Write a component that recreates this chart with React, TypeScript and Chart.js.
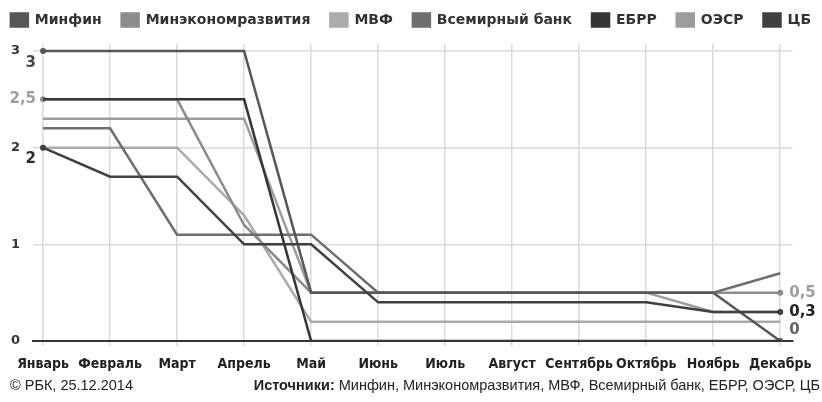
import { useEffect, useRef } from 'react';
import { Chart, registerables } from 'chart.js';
Chart.register(...registerables);

const months = ['Январь', 'Февраль', 'Март', 'Апрель', 'Май', 'Июнь', 'Июль', 'Август', 'Сентябрь', 'Октябрь', 'Ноябрь', 'Декабрь'];
const seriesNames = ['Минфин', 'Минэкономразвития', 'МВФ', 'Всемирный банк', 'ЕБРР', 'ОЭСР', 'ЦБ'];
const minfin = [3, 3, 3, 3, 0.5, 0.5, 0.5, 0.5, 0.5, 0.5, 0.5, 0];
const minek = [2.5, 2.5, 2.5, 1.2, 0.5, 0.5, 0.5, 0.5, 0.5, 0.5, 0.5, 0.5];
const imf = [2, 2, 2, 1.3, 0.2, 0.2, 0.2, 0.2, 0.2, 0.2, 0.2, 0.2];
const worldBank = [2.2, 2.2, 1.1, 1.1, 1.1, 0.5, 0.5, 0.5, 0.5, 0.5, 0.5, 0.7];
const ebrd = [2.5, 2.5, 2.5, 2.5, 0, 0, 0, 0, 0, 0, 0, 0];
const oecd = [2.3, 2.3, 2.3, 2.3, 0.5, 0.5, 0.5, 0.5, 0.5, 0.5, 0.3, 0.3];
const cbr = [2, 1.7, 1.7, 1.0, 1.0, 0.4, 0.4, 0.4, 0.4, 0.4, 0.3, 0.3];
const yTicks = [0, 1, 2, 3];
const footerLeft = '© РБК, 25.12.2014';
const footerBold = 'Источники:';
const footerRest = ' Минфин, Минэкономразвития, МВФ, Всемирный банк, ЕБРР, ОЭСР, ЦБ';

const seriesValues = [minfin, minek, imf, worldBank, ebrd, oecd, cbr];
const colors = ['#575757', '#8c8c8c', '#ababab', '#6e6e6e', '#353535', '#9c9c9c', '#404040'];
// drawing order (lower = on top)
const drawOrder = [2, 4, 6, 3, 0, 5, 1];
// which series carry start/end value labels: [seriesIndex, start label colour, start dy, end label colour, end dy]
const labelled: [number, string, number, string, number][] = [
  [0, '#444444', 12, '#666666', -11],
  [1, '#9e9e9e', 0, '#9e9e9e', 0],
  [6, '#2a2a2a', 11, '#222222', 0],
];

const fmt = (v: number) => String(v).replace('.', ',');

export default function App() {
  const ref = useRef<HTMLCanvasElement>(null);
  useEffect(() => {
    const labelPlugin = {
      id: 'valueLabels',
      afterDatasetsDraw(chart: any) {
        const ctx = chart.ctx;
        const xs = chart.scales.x;
        const ys = chart.scales.y;
        ctx.save();
        ctx.font = 'bold 15px "DejaVu Sans"';
        ctx.textBaseline = 'middle';
        labelled.forEach(([si, c1, dy1, c2, dy2]) => {
          const vals = seriesValues[si];
          const first = vals[0];
          const last = vals[vals.length - 1];
          ctx.fillStyle = c1;
          ctx.textAlign = 'right';
          ctx.fillText(fmt(first), xs.getPixelForValue(0) - 7, ys.getPixelForValue(first) + dy1);
          ctx.fillStyle = c2;
          ctx.textAlign = 'left';
          ctx.fillText(fmt(last), xs.getPixelForValue(vals.length - 1) + 9, ys.getPixelForValue(last) + dy2);
        });
        ctx.restore();
      },
      afterDraw(chart: any) {
        const ctx = chart.ctx;
        ctx.save();
        ctx.textBaseline = 'middle';
        ctx.fillStyle = '#222';
        ctx.font = '14.5px "Liberation Sans"';
        ctx.textAlign = 'left';
        ctx.fillText(footerLeft, 10, 386);
        const restW = ctx.measureText(footerRest).width;
        ctx.textAlign = 'right';
        ctx.fillText(footerRest, 820, 386);
        ctx.font = 'bold 14.5px "Liberation Sans"';
        ctx.fillText(footerBold, 820 - restW, 386);
        ctx.restore();
      },
    };

    const chart = new Chart(ref.current!, {
      type: 'line',
      data: {
        datasets: seriesNames.map((name, si) => {
          const hasLabel = labelled.some((l) => l[0] === si);
          return {
            label: name,
            order: drawOrder[si],
            data: seriesValues[si].map((y, i) => ({ x: i, y })),
            borderColor: colors[si],
            backgroundColor: colors[si],
            borderWidth: 2.5,
            tension: 0,
            pointRadius: seriesValues[si].map((_, i) => (hasLabel && (i === 0 || i === 11) ? 3 : 0)),
            pointBorderWidth: 0,
            pointBackgroundColor: colors[si],
          };
        }),
      },
      options: {
        responsive: false,
        animation: false,
        devicePixelRatio: 1,
        layout: { padding: { top: -7, left: -12, right: -12, bottom: 0 } },
        plugins: {
          tooltip: { enabled: false },
          legend: {
            display: true,
            position: 'top',
            align: 'center',
            labels: {
              boxWidth: 17,
              boxHeight: 13,
              padding: 20,
              color: '#333',
              font: { family: '"DejaVu Sans"', size: 14, weight: 'bold' },
              sort: (a: any, b: any) => a.datasetIndex - b.datasetIndex,
            },
          },
        },
        scales: {
          x: {
            type: 'linear',
            min: -0.15,
            max: 11.18,
            grid: { color: '#dadada', lineWidth: 1.5, drawTicks: true, tickLength: 5 },
            border: { display: true, color: '#333', width: 2 },
            ticks: {
              stepSize: 1,
              includeBounds: false,
              autoSkip: false,
              maxRotation: 0,
              minRotation: 0,
              padding: 10,
              color: '#222',
              font: { family: '"DejaVu Sans Condensed", "DejaVu Sans"', size: 14, weight: 'bold' },
              callback: (v: any) => months[v] ?? '',
            },
            afterFit: (s: any) => {
              s.height = 61;
            },
          },
          xt: {
            type: 'linear',
            position: 'top',
            display: true,
            grid: { display: false },
            border: { display: false },
            ticks: { display: false },
            afterFit: (s: any) => {
              s.height = 7;
            },
          },
          y: {
            type: 'linear',
            min: 0,
            max: 3.072,
            grid: { color: '#dadada', lineWidth: 1.5, drawTicks: false },
            border: { display: false },
            afterBuildTicks: (s: any) => {
              s.ticks = yTicks.map((v) => ({ value: v }));
            },
            ticks: {
              padding: 13,
              color: '#333',
              font: { family: '"DejaVu Sans"', size: 13, weight: 'bold' },
              callback: (v: any) => String(v),
            },
            afterFit: (s: any) => {
              s.width = 45;
            },
          },
          yr: {
            type: 'linear',
            position: 'right',
            display: true,
            grid: { display: false },
            border: { display: false },
            ticks: { display: false },
            afterFit: (s: any) => {
              s.width = 41;
            },
          },
        },
      },
      plugins: [labelPlugin],
    } as any);
    return () => chart.destroy();
  }, []);
  return (
    <div style={{ position: 'fixed', left: 0, top: 0, width: 822, height: 402, background: '#fff' }}>
      <canvas ref={ref} width={822} height={402} style={{ width: 822, height: 402, display: 'block' }} />
    </div>
  );
}
